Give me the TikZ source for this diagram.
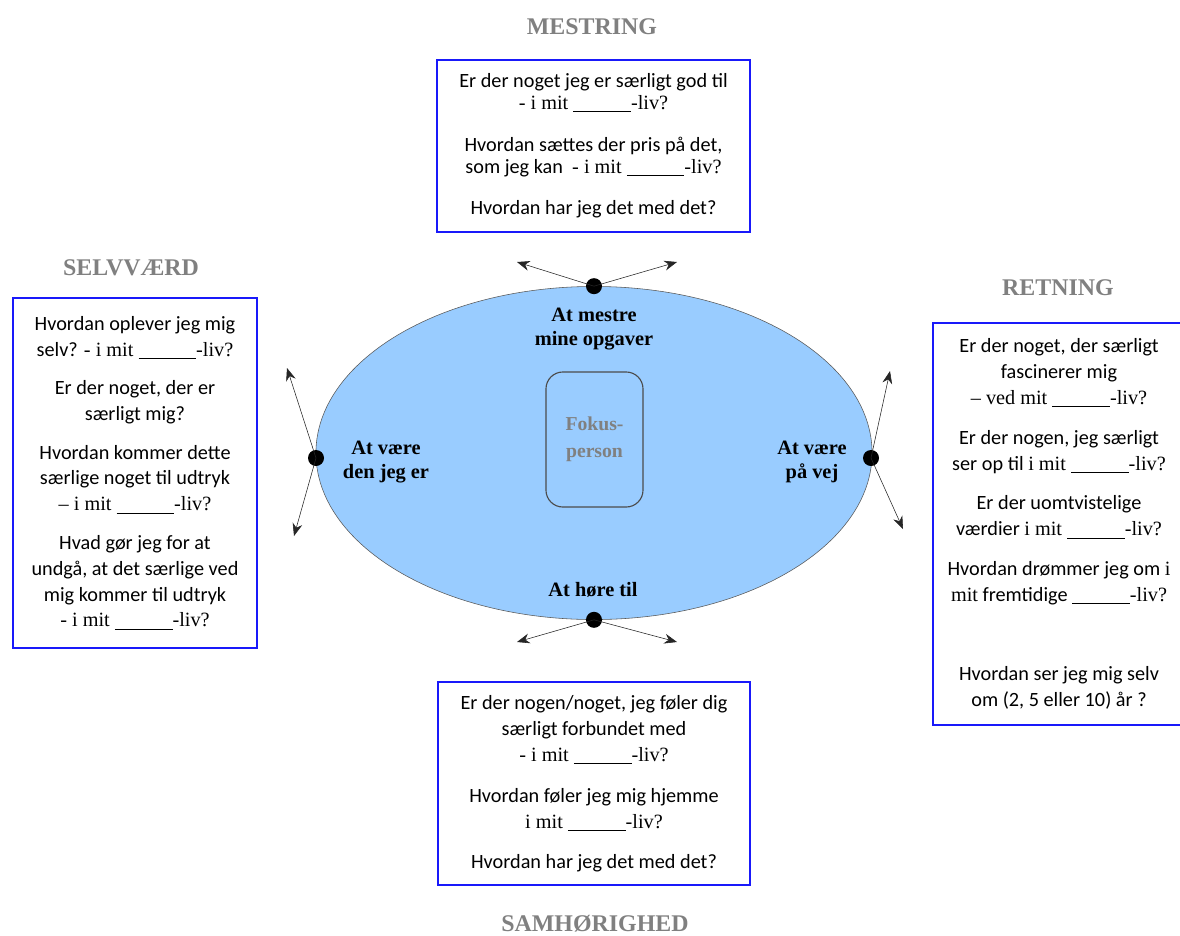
\documentclass[tikz,border=0pt]{standalone}
\usepackage{fontspec}
\setmainfont{Carlito}
\newfontfamily\tms{Liberation Serif}
\usetikzlibrary{shapes.geometric,arrows.meta}
\definecolor{ellblue}{RGB}{153,204,255}
\definecolor{qblue}{RGB}{25,25,250}
\newcommand\blank{\underline{\hspace{41pt}}}

\begin{document}
\begin{tikzpicture}[x=0.025cm, y=-0.025cm,
		qbox/.style = {draw=qblue, line width=2pt, align=center, inner sep=0pt,
			font=\fontsize{14.4}{18.4}\selectfont},
		ttl/.style = {text=gray, font=\tms\bfseries\fontsize{17}{20}\selectfont},
		lbl/.style = {align=center, font=\tms\bfseries\fontsize{14.5}{17.5}\selectfont},
		dot/.style = {circle, fill=black, inner sep=0pt, minimum size=0.4cm},
		arr/.style = {-{Stealth[length=9pt,width=7pt]}, thin, black!85}]
		\useasboundingbox (0,0) rectangle (1180,936);

		\draw (594,453) node[ellipse, draw=gray!70!black, fill=ellblue, inner sep=0pt, minimum width=13.9cm, minimum height=8.325cm] (ell) {};
		\draw (594.5,439.5) node[draw=gray!60!black, thick, rounded corners=12pt, minimum width=2.425cm, minimum height=3.375cm, align=center, text=gray, font=\tms\bfseries\fontsize{14}{19}\selectfont] (fokus) {Fokus-\\person};

		\draw (594,329) node[lbl] (lab1) {At mestre\\mine opgaver};
		\draw (386,462) node[lbl] (lab2) {At være\\den jeg er};
		\draw (812,462) node[lbl] (lab3) {At være\\på vej};
		\draw (593,590) node[lbl] (lab4) {At høre til};

		\draw (ell.north) node[dot] (dot1) {};
		\draw (316,458) node[dot] (dot2) {};
		\draw (871,458) node[dot] (dot3) {};
		\draw (ell.south) node[dot] (dot4) {};

		\coordinate (end1a) at (517,262);
		\coordinate (end1b) at (677,262);
		\coordinate (end2a) at (287,368);
		\coordinate (end2b) at (294,536);
		\coordinate (end3a) at (890,371);
		\coordinate (end3b) at (903,529);
		\coordinate (end4a) at (517,642);
		\coordinate (end4b) at (677,642);

		\draw [arr] (dot1.center) -- (end1a);
		\draw [arr] (dot1.center) -- (end1b);
		\draw [arr] (dot2.center) -- (end2a);
		\draw [arr] (dot2.center) -- (end2b);
		\draw [arr] (dot3.center) -- (end3a);
		\draw [arr] (dot3.center) -- (end3b);
		\draw [arr] (dot4.center) -- (end4a);
		\draw [arr] (dot4.center) -- (end4b);

		\draw (592,27) node[ttl] (title1) {MESTRING};
		\draw (131,268) node[ttl] (title2) {SELVVÆRD};
		\draw (1058,288) node[ttl] (title3) {RETNING};
		\draw (595,924) node[ttl] (title4) {SAMHØRIGHED};

		\draw (593.5,146) node[qbox, minimum width=7.825cm, minimum height=4.3cm, font=\fontsize{14.4}{15.6}\selectfont] (box1) {Er der noget jeg er særligt god til\\ {\tms - i mit \blank-liv?}\\[14pt] Hvordan sættes der pris på det,\\ som jeg kan\ \ {\tms - i mit \blank-liv?}\\[14pt] Hvordan har jeg det med det?};
		\draw (135,473) node[qbox, minimum width=6.1cm, minimum height=8.75cm] (box2) {Hvordan oplever jeg mig\\ selv? {\tms - i mit \blank-liv?}\\[9pt] Er der noget, der er\\ særligt mig?\\[9pt] Hvordan kommer dette\\ særlige noget til udtryk\\ {\tms – i mit \blank-liv?}\\[9pt] Hvad gør jeg for at\\ undgå, at det særlige ved\\ mig kommer til udtryk\\ {\tms - i mit \blank-liv?}};
		\draw (1059,524) node[qbox, minimum width=6.3cm, minimum height=10.05cm] (box3) {Er der noget, der særligt\\ fascinerer mig\\ {\tms – ved mit \blank-liv?}\\[10pt] Er der nogen, jeg særligt\\ ser op til {\tms i mit \blank-liv?}\\[10pt] Er der uomtvistelige\\ værdier {\tms i mit \blank-liv?}\\[10pt] Hvordan drømmer jeg om {\tms i}\\ {\tms mit} fremtidige {\tms \blank-liv?}\\[38pt] Hvordan ser jeg mig selv\\ om (2, 5 eller 10) år ?};
		\draw (594,783.5) node[qbox, minimum width=7.8cm, minimum height=5.075cm] (box4) {Er der nogen/noget, jeg føler dig\\ særligt forbundet med\\ {\tms - i mit \blank-liv?}\\[11pt] Hvordan føler jeg mig hjemme\\ {\tms i mit \blank-liv?}\\[10pt] Hvordan har jeg det med det?};
	\end{tikzpicture}
\end{document}
